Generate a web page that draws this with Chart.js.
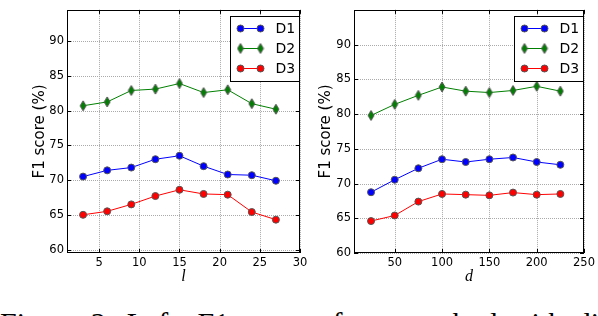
<!DOCTYPE html>
<html>
<head>
<style>
  body { margin: 0; background: #fff; width: 598px; height: 316px; overflow: hidden; position: relative; }
  canvas { position: absolute; top: 0; }
  #leftChart { left: 0; }
  #rightChart { left: 290px; }
  #caption {
    position: absolute; left: 0; top: 308px;
    font: 30px/30px "Liberation Serif", serif;
    white-space: nowrap; word-spacing: 5px; color: #000;
  }
</style>
</head>
<body>
<canvas id="leftChart" width="312" height="290"></canvas>
<canvas id="rightChart" width="308" height="290"></canvas>
<div id="caption">Figure 2: Left: F1 score of our method with different l; Right: F1 score with different d.</div>

<script src="https://cdn.jsdelivr.net/npm/chart.js@4/dist/chart.umd.min.js"></script>
<script>
// values
const lValues = [3, 6, 9, 12, 15, 18, 21, 24, 27];
const lD1 = [70.5, 71.4, 71.8, 73.0, 73.5, 72.0, 70.8, 70.7, 69.9];
const lD2 = [80.7, 81.25, 82.9, 83.1, 83.9, 82.6, 83.0, 81.0, 80.2];
const lD3 = [65.0, 65.5, 66.5, 67.7, 68.6, 68.0, 67.9, 65.4, 64.3];

const dValues = [25, 50, 75, 100, 125, 150, 175, 200, 225];
const dD1 = [68.75, 70.55, 72.2, 73.5, 73.1, 73.5, 73.75, 73.1, 72.7];
const dD2 = [79.8, 81.4, 82.7, 83.9, 83.3, 83.1, 83.4, 84.0, 83.3];
const dD3 = [64.6, 65.4, 67.4, 68.5, 68.4, 68.3, 68.7, 68.4, 68.5];

const lTicks = [5, 10, 15, 20, 25, 30];
const dTicks = [50, 100, 150, 200, 250];
const yTicks = [60, 65, 70, 75, 80, 85, 90];
const seriesNames = ['D1', 'D2', 'D3'];
const seriesColors = ['#0000ff', '#008000', '#ff0000'];

const EDGE = '#555';

function diamondImage() {
    const c = document.createElement('canvas');
    c.width = 8;
    c.height = 12;
    const g = c.getContext('2d');
    g.beginPath();
    g.moveTo(4, 1);
    g.lineTo(7, 6);
    g.lineTo(4, 11);
    g.lineTo(1, 6);
    g.closePath();
    g.fillStyle = '#008000';
    g.fill();
    g.strokeStyle = EDGE;
    g.lineWidth = 1;
    g.stroke();
    return c;
}
const diamond = diamondImage();

function drawMarker(ctx, i, x, y) {
    if (i === 1) {
        ctx.drawImage(diamond, x - 4, y - 6);
        return;
    }
    ctx.beginPath();
    ctx.arc(x, y, 3.5, 0, Math.PI * 2);
    ctx.fillStyle = seriesColors[i];
    ctx.fill();
    ctx.strokeStyle = EDGE;
    ctx.lineWidth = 1;
    ctx.stroke();
}

// grid, frame, inward ticks and legend box, matplotlib style
const framePlugin = {
    id: 'frame',
    beforeDatasetsDraw(chart) {
        const {ctx, chartArea: a, scales} = chart;
        ctx.save();
        ctx.strokeStyle = '#aaa';
        ctx.lineWidth = 1;
        ctx.setLineDash([1, 1]);
        scales.x.ticks.forEach(t => {
            const x = Math.round(scales.x.getPixelForValue(t.value)) + 0.5;
            ctx.beginPath(); ctx.moveTo(x, a.top); ctx.lineTo(x, a.bottom); ctx.stroke();
        });
        scales.y.ticks.forEach(t => {
            const y = Math.round(scales.y.getPixelForValue(t.value)) + 0.5;
            ctx.beginPath(); ctx.moveTo(a.left, y); ctx.lineTo(a.right, y); ctx.stroke();
        });
        ctx.restore();
    },
    afterDatasetsDraw(chart) {
        const {ctx, chartArea: a, scales} = chart;
        ctx.save();
        ctx.strokeStyle = '#000';
        ctx.lineWidth = 1;
        ctx.beginPath();
        scales.x.ticks.forEach(t => {
            const x = Math.round(scales.x.getPixelForValue(t.value)) + 0.5;
            ctx.moveTo(x, a.bottom); ctx.lineTo(x, a.bottom - 4);
            ctx.moveTo(x, a.top); ctx.lineTo(x, a.top + 4);
        });
        scales.y.ticks.forEach(t => {
            const y = Math.round(scales.y.getPixelForValue(t.value)) + 0.5;
            ctx.moveTo(a.left, y); ctx.lineTo(a.left + 4, y);
            ctx.moveTo(a.right, y); ctx.lineTo(a.right - 4, y);
        });
        ctx.stroke();
        ctx.strokeRect(Math.round(a.left) + 0.5, Math.round(a.top) + 0.5,
            Math.round(a.right - a.left) - 1, Math.round(a.bottom - a.top) - 1);

        // legend
        const bw = 69, bh = 65;
        const bx = Math.round(a.right) - 1 - bw + 0.5;
        const by = Math.round(a.top) + 6 + 0.5;
        ctx.fillStyle = '#fff';
        ctx.fillRect(bx, by, bw, bh);
        ctx.strokeRect(bx, by, bw, bh);
        seriesNames.forEach((name, i) => {
            const y = by + 12 + i * 20;
            ctx.strokeStyle = seriesColors[i];
            ctx.beginPath(); ctx.moveTo(bx + 10, y); ctx.lineTo(bx + 30, y); ctx.stroke();
            drawMarker(ctx, i, bx + 10, y);
            drawMarker(ctx, i, bx + 30, y);
            ctx.fillStyle = '#000';
            ctx.font = '14px "DejaVu Sans"';
            ctx.textBaseline = 'middle';
            ctx.textAlign = 'left';
            ctx.fillText(name, bx + 45, y + 0.5);
        });
        ctx.restore();
    }
};

function makeChart(id, xs, d1, d2, d3, opts) {
    const series = [d1, d2, d3];
    const datasets = series.map((vals, i) => ({
        label: seriesNames[i],
        data: xs.map((x, j) => ({x: x, y: vals[j]})),
        borderColor: seriesColors[i],
        backgroundColor: seriesColors[i],
        borderWidth: 1,
        pointStyle: i === 1 ? diamond : 'circle',
        pointRadius: 3.5,
        pointBorderColor: EDGE,
        pointBorderWidth: 1,
        pointBackgroundColor: seriesColors[i],
        tension: 0
    }));

    return new Chart(document.getElementById(id), {
        type: 'line',
        data: {datasets: datasets},
        options: {
            responsive: false,
            animation: false,
            events: [],
            layout: {padding: {top: 1, right: opts.rightPad, left: 0, bottom: 0}},
            plugins: {legend: {display: false}, tooltip: {enabled: false}},
            scales: {
                x: {
                    type: 'linear',
                    min: opts.xMin,
                    max: opts.xMax,
                    afterBuildTicks: s => { s.ticks = opts.xTicks.map(v => ({value: v})); },
                    afterFit: s => { s.height = 37; },
                    grid: {display: false, drawTicks: false},
                    border: {display: false},
                    ticks: {
                        color: '#000', padding: 3, maxRotation: 0,
                        font: {family: 'DejaVu Sans', size: 11.5}
                    },
                    title: {
                        display: true, text: opts.xTitle, color: '#000',
                        padding: {top: 0, bottom: 4},
                        font: {family: 'Liberation Serif', size: 16, style: 'italic'}
                    }
                },
                y: {
                    type: 'linear',
                    min: opts.yMin,
                    max: opts.yMax,
                    afterBuildTicks: s => { s.ticks = yTicks.map(v => ({value: v})); },
                    afterFit: s => { s.width = opts.yWidth; },
                    grid: {display: false, drawTicks: false},
                    border: {display: false},
                    ticks: {
                        color: '#000', padding: 3,
                        font: {family: 'DejaVu Sans', size: 11.5}
                    },
                    title: {
                        display: true, text: 'F1 score (%)', color: '#000',
                        padding: {top: opts.titlePad, bottom: 0},
                        font: {family: 'DejaVu Sans', size: 15}
                    }
                }
            }
        },
        plugins: [framePlugin]
    });
}

makeChart('leftChart', lValues, lD1, lD2, lD3, {
    xMin: 1, xMax: 30, xTicks: lTicks, xTitle: 'l',
    yMin: 59.5, yMax: 94.5, yWidth: 67, titlePad: 31.5, rightPad: 12
});

makeChart('rightChart', dValues, dD1, dD2, dD3, {
    xMin: 7, xMax: 250, xTicks: dTicks, xTitle: 'd',
    yMin: 60, yMax: 95, yWidth: 64, titlePad: 27.5, rightPad: 10
});
</script>
</body>
</html>
